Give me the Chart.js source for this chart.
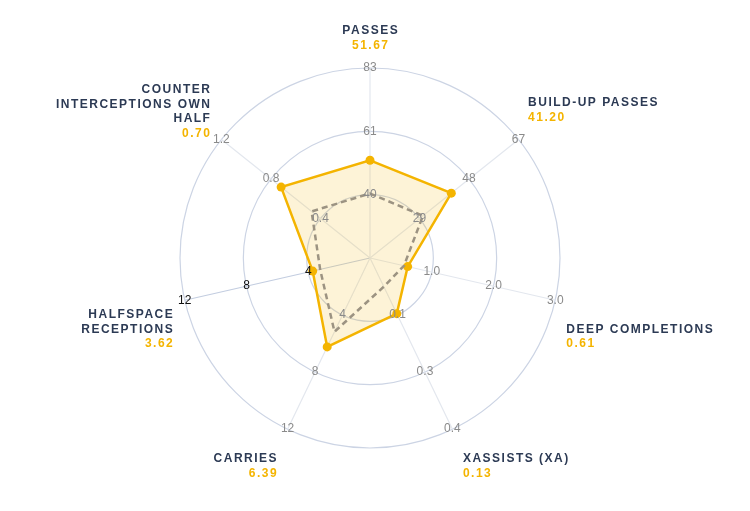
<!DOCTYPE html>
<html>
<head>
<meta charset="utf-8">
<script src="https://cdn.jsdelivr.net/npm/chart.js@4.4.1/dist/chart.umd.min.js"></script>
<style>
  html, body { margin: 0; padding: 0; background: #ffffff; }
  #wrap { width: 750px; height: 511px; position: relative; }
</style>
</head>
<body>
<div id="wrap"><canvas id="radar"></canvas></div>
<script>
// axis names (one entry per line)
const axisNames = [
  ["PASSES"],
  ["BUILD-UP PASSES"],
  ["DEEP COMPLETIONS"],
  ["XASSISTS (XA)"],
  ["CARRIES"],
  ["HALFSPACE", "RECEPTIONS"],
  ["COUNTER", "INTERCEPTIONS OWN", "HALF"],
];

// player values (yellow) and comparison values (dashed)
const playerValues = [51.67, 41.2, 0.61, 0.13, 6.39, 3.62, 0.7];
const compareValues = [40.4, 30.3, 0.55, 0.067, 5.3, 3.15, 0.46];

// each axis has its own range: centre = min, outer ring = max
const axisMin = [18.5, 10, 0, 0, 0, 0, 0];
const axisMax = [83, 67, 3.0, 0.4, 12.3, 11.7, 1.17];

// tick labels shown on rings 1, 2, 3 of each axis
const tickLabels = [
  ["40", "61", "83"],
  ["29", "48", "67"],
  ["1.0", "2.0", "3.0"],
  ["0.1", "0.3", "0.4"],
  ["4", "8", "12"],
  ["4", "8", "12"],
  ["0.4", "0.8", "1.2"],
];

const RINGS = 3;
const escalar = (vals) =>
  vals.map((v, i) => ((v - axisMin[i]) / (axisMax[i] - axisMin[i])) * RINGS);

const fonteBase = '"Liberation Sans", Arial, Helvetica, sans-serif';

// where each label block sits relative to the end of its axis
const labelLayout = [
  { align: "center", dx: 0, dy: -37.5 },
  { align: "left", dx: 9.5, dy: -37 },
  { align: "left", dx: 11, dy: 29 },
  { align: "left", dx: 10.5, dy: 30 },
  { align: "right", dx: -11, dy: 30 },
  { align: "right", dx: -12, dy: 14.5 },
  { align: "right", dx: -11.5, dy: -50 },
];

const decoracaoRadar = {
  id: "decoracaoRadar",
  afterDatasetsDraw(chart) {
    const scale = chart.scales.r;
    const ctx = chart.ctx;
    ctx.save();

    // tick labels per axis
    ctx.font = "12px " + fonteBase;
    ctx.textAlign = "center";
    ctx.textBaseline = "middle";
    tickLabels.forEach((ticks, i) => {
      ticks.forEach((t, k) => {
        const p = scale.getPointPositionForValue(i, k + 1);
        ctx.fillStyle = i === 5 ? "#111111" : "#8a8a8a";
        ctx.fillText(t, p.x, p.y);
      });
    });

    // axis names + player value
    const ls = 1.5;
    ctx.letterSpacing = ls + "px";
    ctx.font = "bold 12px " + fonteBase;
    axisNames.forEach((linhas, i) => {
      const fim = scale.getPointPositionForValue(i, RINGS);
      const lay = labelLayout[i];
      let x = fim.x + lay.dx;
      if (lay.align === "right") x += ls;
      if (lay.align === "center") x += ls / 2;
      let y = fim.y + lay.dy;
      ctx.textAlign = lay.align;
      ctx.fillStyle = "#2c3a54";
      linhas.forEach((txt) => {
        ctx.fillText(txt, x, y);
        y += 14.7;
      });
      ctx.fillStyle = "#f4b400";
      ctx.fillText(playerValues[i].toFixed(2), x, y);
    });

    ctx.restore();
  },
};

new Chart(document.getElementById("radar"), {
  type: "radar",
  data: {
    labels: axisNames.map((l) => l.join(" ")),
    datasets: [
      {
        data: escalar(compareValues),
        borderColor: "#9c9382",
        borderWidth: 2.5,
        borderDash: [6, 4],
        pointRadius: 0,
        fill: false,
        order: 0,
      },
      {
        data: escalar(playerValues),
        borderColor: "#f4b400",
        backgroundColor: "rgba(245, 185, 20, 0.17)",
        borderWidth: 2.5,
        fill: true,
        pointRadius: 4.5,
        pointBackgroundColor: "#f4b400",
        pointBorderWidth: 0,
        order: 1,
      },
    ],
  },
  options: {
    responsive: true,
    maintainAspectRatio: false,
    animation: false,
    layout: { padding: { top: 68, bottom: 63, left: 0, right: 10 } },
    plugins: { legend: { display: false }, tooltip: { enabled: false } },
    elements: { line: { tension: 0 } },
    scales: {
      r: {
        min: 0,
        max: RINGS,
        ticks: { display: false, stepSize: 1 },
        pointLabels: { display: false },
        grid: { circular: true, color: "#ccd4e4", lineWidth: 1.2 },
        angleLines: {
          color: (c) => (c.index === 5 ? "#c3cde0" : "#e3e7ee"),
          lineWidth: 1.2,
        },
      },
    },
  },
  plugins: [decoracaoRadar],
});
</script>
</body>
</html>
